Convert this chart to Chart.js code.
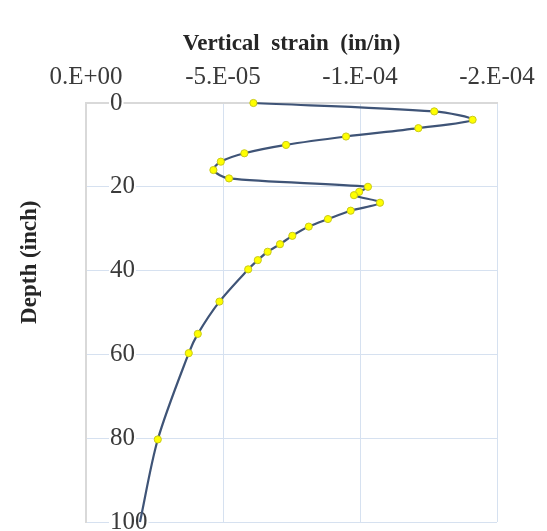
<!DOCTYPE html>
<html>
<head>
<meta charset="utf-8">
<script src="https://cdn.jsdelivr.net/npm/chart.js@4/dist/chart.umd.min.js"></script>
<style>
  html, body { margin: 0; padding: 0; background: #ffffff; }
  canvas { display: block; }
</style>
</head>
<body>
<canvas id="c" width="547" height="531"></canvas>
<script>
// ---- data ----
const depths = [0, 2, 4, 6, 8, 10, 12, 14, 16, 18, 20, 21.2, 22, 23.8, 25.7, 27.7, 29.5, 31.7, 33.7, 35.5, 37.5, 39.7, 47.4, 55.1, 59.7, 80.3, 100];
const strains = [-6.11e-5, -1.271e-4, -1.411e-4, -1.213e-4, -9.49e-5, -7.30e-5, -5.78e-5, -4.92e-5, -4.65e-5, -5.22e-5,
                 -1.029e-4, -9.97e-5, -9.78e-5, -1.073e-4, -9.66e-5, -8.83e-5, -8.13e-5, -7.53e-5, -7.08e-5, -6.63e-5,
                 -6.27e-5, -5.92e-5, -4.87e-5, -4.08e-5, -3.75e-5, -2.62e-5, -1.97e-5];
const xTickLabels = ["0.E+00", "-5.E-05", "-1.E-04", "-2.E-04"];
const xStep = -5e-5;
const xMin = -1.5e-4, xMax = 0;
const yMin = 0, yMax = 100, yStep = 20;
const xTitle = "Vertical  strain  (in/in)";
const yTitle = "Depth (inch)";

const points = depths.map((d, i) => ({ x: strains[i], y: d }));
const serif = "'Liberation Serif', 'Times New Roman', serif";

const yTitlePlugin = {
  id: 'yTitle',
  afterDraw(chart) {
    const ctx = chart.ctx, a = chart.chartArea;
    ctx.save();
    ctx.translate(30, a.top + 0.38 * (a.bottom - a.top));
    ctx.rotate(-Math.PI / 2);
    ctx.font = "bold 23px " + serif;
    ctx.fillStyle = '#262626';
    ctx.textAlign = 'center';
    ctx.textBaseline = 'middle';
    ctx.fillText(yTitle, 0, 0);
    ctx.restore();
  }
};

function noPad(s) {
  s.paddingTop = 0; s.paddingBottom = 0; s.paddingLeft = 0; s.paddingRight = 0;
}

new Chart(document.getElementById('c'), {
  type: 'scatter',
  data: {
    datasets: [{
      data: points,
      showLine: true,
      tension: 0.3,
      borderColor: '#3f5477',
      borderWidth: 2.2,
      backgroundColor: '#ffff00',
      pointBackgroundColor: '#ffff00',
      pointBorderColor: '#c9c91a',
      pointBorderWidth: 1,
      pointRadius: (c) => (c.dataIndex === depths.length - 1 ? 0 : 3.6),
      clip: false
    }]
  },
  options: {
    responsive: false,
    animation: false,
    layout: { padding: { top: 0, left: 86, right: 50, bottom: 9 } },
    plugins: { legend: { display: false }, tooltip: { enabled: false } },
    scales: {
      x: {
        type: 'linear',
        position: 'top',
        reverse: true,
        min: xMin,
        max: xMax,
        afterFit: (s) => { s.height = 103; noPad(s); },
        ticks: {
          stepSize: -xStep,
          autoSkip: false,
          maxRotation: 0,
          padding: 11,
          color: '#3a3a3a',
          font: { family: serif, size: 25 },
          callback: (v) => xTickLabels[Math.round(v / xStep)]
        },
        grid: { color: '#d6e1f0', lineWidth: 1, drawTicks: false },
        border: { color: '#d9d9d9', width: 2 },
        title: {
          display: true,
          text: xTitle,
          color: '#262626',
          font: { family: serif, size: 23, weight: 'bold' },
          padding: { top: 30, bottom: 0 }
        }
      },
      y: {
        type: 'linear',
        position: 'left',
        reverse: true,
        min: yMin,
        max: yMax,
        afterFit: (s) => { s.width = 0; noPad(s); },
        ticks: {
          stepSize: yStep,
          mirror: true,
          padding: 24,
          color: '#3a3a3a',
          font: { family: serif, size: 25 },
          showLabelBackdrop: true,
          backdropColor: '#ffffff',
          backdropPadding: 1
        },
        grid: { color: '#d6e1f0', lineWidth: 1, drawTicks: false },
        border: { color: '#d9d9d9', width: 2 }
      }
    }
  },
  plugins: [yTitlePlugin]
});
</script>
</body>
</html>
